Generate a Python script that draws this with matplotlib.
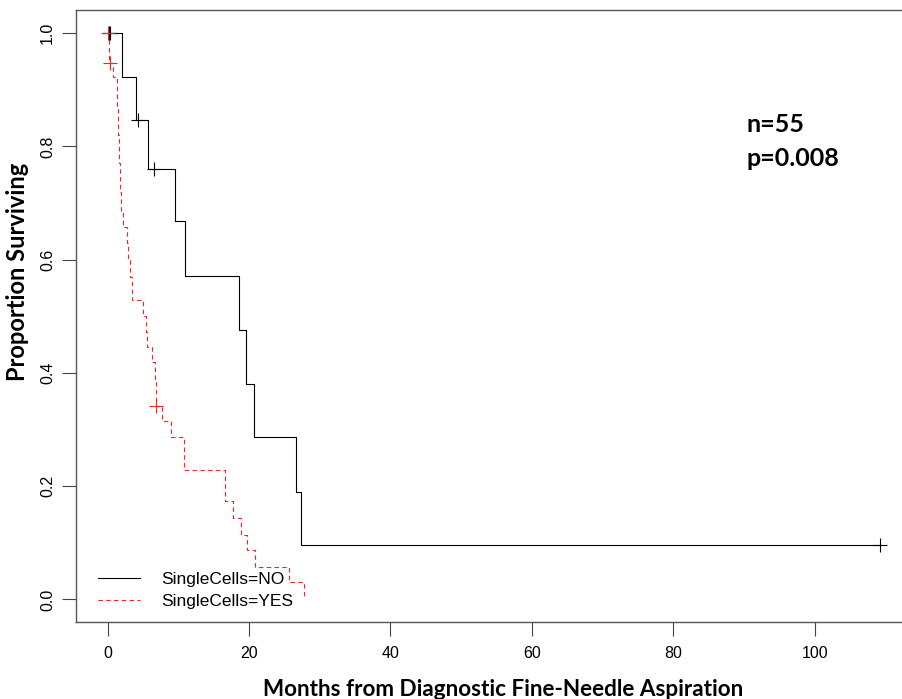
import matplotlib
matplotlib.use("Agg")
import matplotlib.pyplot as plt

# ---- data ----
times_no = [0, 2.1, 4.0, 5.76, 9.53, 11.0, 18.6, 19.6, 20.75, 26.6, 27.3, 109.3]
surv_no = [1.0, 0.922, 0.846, 0.761, 0.668, 0.571, 0.476, 0.380, 0.287, 0.190, 0.096, 0.096]
cens_no_t = [0.2, 0.4, 4.25, 6.6, 109.3]
cens_no_s = [1.0, 1.0, 0.846, 0.761, 0.096]

times_yes = [0, 0.2, 0.7, 1.3, 1.5, 1.6, 1.7, 1.85, 2.2, 2.7, 2.9, 3.1, 3.4, 5.05, 5.4, 5.6,
             6.3, 6.7, 6.8, 6.9, 7.7, 8.97, 10.75, 16.6, 17.8, 18.8, 19.75, 20.9, 25.7, 27.8]
surv_yes = [1.0, 0.948, 0.922, 0.870, 0.82, 0.77, 0.72, 0.684, 0.658, 0.629, 0.60, 0.57, 0.528,
            0.50, 0.473, 0.446, 0.419, 0.39, 0.365, 0.341, 0.315, 0.287, 0.228, 0.173, 0.143,
            0.114, 0.088, 0.058, 0.031, 0.0]
cens_yes_t = [0.1, 0.35, 6.9]
cens_yes_s = [1.0, 0.948, 0.341]

x_ticks = [0, 20, 40, 60, 80, 100]
y_ticks = [0.0, 0.2, 0.4, 0.6, 0.8, 1.0]
legend_labels = ["SingleCells=NO", "SingleCells=YES"]
annot_lines = ["n=55", "p=0.008"]

W, H = 902, 699
fig = plt.figure(figsize=(W / 100, H / 100), dpi=100)
ax = fig.add_axes([76 / W, (H - 621.5) / H, (911.6 - 76) / W, (621.5 - 10) / H])

ax.step(times_no, surv_no, where="post", color="black", lw=0.8, label=legend_labels[0])
ax.step(times_yes, surv_yes, where="post", color="#ff2020", lw=0.8, ls=(0, (4, 3)),
        label=legend_labels[1])
ax.plot(cens_no_t, cens_no_s, ls="none", marker="+", color="black", ms=10, mew=0.8)
ax.plot(cens_yes_t, cens_yes_s, ls="none", marker="+", color="#ff2020", ms=10, mew=0.8)

ax.set_xlim(-4.47, 113.7)
ax.set_ylim(-0.039, 1.041)
ax.set_xticks(x_ticks)
ax.set_yticks(y_ticks)
ax.set_xticklabels([str(v) for v in x_ticks], family="Liberation Sans", fontsize=11.5)
ax.set_yticklabels([f"{v:.1f}" for v in y_ticks], family="Liberation Sans", fontsize=11.5,
                   rotation=90, va="center")
ax.tick_params(direction="out", length=10, width=0.8, color="#444444")
ax.tick_params(axis="x", pad=8)
ax.tick_params(axis="y", pad=5)
for s in ax.spines.values():
    s.set_color("#555555")
    s.set_linewidth(1.0)

leg = ax.legend(loc="upper left", bbox_to_anchor=(98 / W, 1 - 572 / H),
                bbox_transform=fig.transFigure, frameon=False, borderpad=0,
                borderaxespad=0, handlelength=2.4, handletextpad=1.25, labelspacing=0.4,
                prop={"family": "Liberation Sans", "size": 12.5})

fig.text(503 / W, 1 - 689 / H, "Months from Diagnostic Fine-Needle Aspiration",
         family="Lato", fontweight="bold", fontsize=16.2, ha="center", va="center")
fig.text(18 / W, 1 - 272 / H, "Proportion Surviving", family="Lato", fontweight="bold",
         fontsize=17, ha="center", va="center", rotation=90)
fig.text(747 / W, 1 - 124 / H, annot_lines[0], family="Lato", fontweight="bold",
         fontsize=18, ha="left", va="center")
fig.text(747 / W, 1 - 158 / H, annot_lines[1], family="Lato", fontweight="bold",
         fontsize=18, ha="left", va="center")

fig.savefig("out.png", dpi=100)
